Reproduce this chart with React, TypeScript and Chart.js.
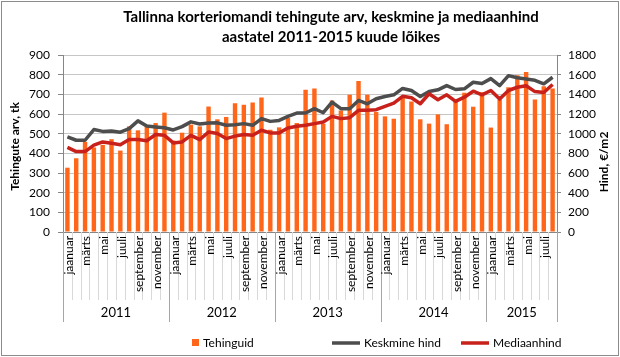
import React, { useEffect, useRef } from 'react';
import { Chart, registerables } from 'chart.js';

Chart.register(...registerables);

// ---- data ----
const MONTHS = ['jaanuar', 'veebruar', 'märts', 'aprill', 'mai', 'juuni', 'juuli', 'august', 'september', 'oktoober', 'november', 'detsember'];
const YEARS = ['2011', '2012', '2013', '2014', '2015'];
const MONTHS_IN_LAST_YEAR = 8;

const TITLE = ['Tallinna korteriomandi tehingute arv, keskmine ja mediaanhind', 'aastatel 2011-2015 kuude lõikes'];
const LEFT_TITLE = 'Tehingute arv, tk';
const RIGHT_TITLE = 'Hind, €/m2';
const SERIES_NAMES = ['Tehinguid', 'Keskmine hind', 'Mediaanhind'];

const LEFT_MAX = 900;
const LEFT_STEP = 100;
const RIGHT_MAX = 1800;
const RIGHT_STEP = 200;

const TEHINGUID = [
  327, 375, 458, 430, 443, 472, 414, 537, 517, 540, 554, 607,
  465, 505, 546, 537, 638, 573, 585, 655, 647, 659, 684, 520,
  532, 580, 554, 723, 730, 551, 669, 618, 698, 768, 698, 610,
  588, 576, 686, 664, 573, 551, 598, 548, 664, 708, 637, 711,
  531, 674, 736, 797, 814, 674, 741, 730,
];

const KESKMINE_HIND = [
  967, 933, 933, 1042, 1023, 1027, 1015, 1051, 1130, 1078, 1068, 1060,
  1038, 1072, 1120, 1098, 1108, 1110, 1085, 1090, 1102, 1085, 1153, 1125,
  1135, 1176, 1210, 1210, 1254, 1213, 1320, 1254, 1254, 1338, 1304, 1355,
  1378, 1395, 1460, 1439, 1378, 1429, 1446, 1489, 1449, 1456, 1523, 1510,
  1560, 1489, 1590, 1568, 1556, 1543, 1507, 1574,
];

const MEDIAANHIND = [
  860, 818, 818, 883, 916, 903, 888, 940, 940, 928, 991, 983,
  906, 916, 983, 940, 1017, 1001, 950, 975, 991, 983, 1035, 1008,
  1008, 1058, 1075, 1085, 1102, 1118, 1176, 1153, 1163, 1237, 1237, 1244,
  1277, 1310, 1380, 1365, 1304, 1406, 1345, 1395, 1328, 1371, 1432, 1395,
  1439, 1352, 1439, 1472, 1488, 1428, 1418, 1500,
];

// ---- categories built from names ----
const LABELS: string[] = [];
const YEAR_OF: number[] = [];
YEARS.forEach((_, yi) => {
  const count = yi === YEARS.length - 1 ? MONTHS_IN_LAST_YEAR : 12;
  for (let m = 0; m < count; m++) {
    LABELS.push(MONTHS[m]);
    YEAR_OF.push(yi);
  }
});

const COLORS = { bar: '#FF661A', avg: '#4D4D4D', med: '#C8201A', axis: '#868686', grid: '#C6C6C6' };
const FONT = 'Lato, "Open Sans", sans-serif';

const decorPlugin = {
  id: 'decor',
  afterDraw(chart: any) {
    const { ctx, chartArea, scales } = chart;
    const xs = scales.x;
    const n = LABELS.length;
    const step = xs.getPixelForValue(1) - xs.getPixelForValue(0);
    ctx.save();

    // frame
    ctx.strokeStyle = '#8C8C8C';
    ctx.lineWidth = 1;
    ctx.strokeRect(1.5, 1.5, chart.width - 3, chart.height - 3);

    // title
    ctx.fillStyle = '#000';
    ctx.font = `bold 15px ${FONT}`;
    ctx.textAlign = 'center';
    ctx.textBaseline = 'middle';
    ctx.fillText(TITLE[0], 331, 17);
    ctx.fillText(TITLE[1], 331, 37);

    // axis titles
    ctx.font = `bold 12px ${FONT}`;
    ctx.save();
    ctx.translate(15, (chartArea.top + chartArea.bottom) / 2 + 3);
    ctx.rotate(-Math.PI / 2);
    ctx.fillText(LEFT_TITLE, 0, 0);
    ctx.restore();
    ctx.save();
    ctx.translate(604, 162);
    ctx.rotate(-Math.PI / 2);
    ctx.fillText(RIGHT_TITLE, 0, 0);
    ctx.restore();

    // category separators
    for (let i = 0; i <= n; i++) {
      const bx = Math.round(xs.getPixelForValue(0) + (i - 0.5) * step) + 0.5;
      const isYear = i === n || (i < n && (i === 0 || YEAR_OF[i] !== YEAR_OF[i - 1]));
      ctx.strokeStyle = isYear ? '#A6A6A6' : '#D9D9D9';
      ctx.beginPath();
      ctx.moveTo(bx, chartArea.bottom);
      ctx.lineTo(bx, isYear ? 322 : 300);
      ctx.stroke();
    }

    // month labels (every other month)
    ctx.fillStyle = '#000';
    ctx.font = `12px ${FONT}`;
    for (let i = 0; i < n; i++) {
      const m = MONTHS.indexOf(LABELS[i]);
      if (m % 2 !== 0) continue;
      const cx = xs.getPixelForValue(i) + 1.5;
      ctx.save();
      ctx.translate(cx, chartArea.bottom + 4);
      ctx.rotate(-Math.PI / 2);
      ctx.textAlign = 'right';
      ctx.textBaseline = 'middle';
      ctx.fillText(LABELS[i], 0, 0);
      ctx.restore();
    }

    // year labels
    ctx.font = `13px ${FONT}`;
    ctx.textAlign = 'center';
    ctx.textBaseline = 'middle';
    YEARS.forEach((y, yi) => {
      const first = YEAR_OF.indexOf(yi);
      const last = YEAR_OF.lastIndexOf(yi);
      const cx = (xs.getPixelForValue(first) + xs.getPixelForValue(last)) / 2;
      ctx.fillText(y, cx, 313);
    });

    // legend
    const ds = chart.data.datasets;
    const ly = 343;
    ctx.font = `12px ${FONT}`;
    ctx.textAlign = 'left';
    const starts = [192, 332, 461];
    ds.forEach((d: any, k: number) => {
      const sx = starts[k];
      if (d.type === 'bar') {
        ctx.fillStyle = d.backgroundColor;
        ctx.fillRect(sx, ly - 4, 7, 7);
        ctx.fillStyle = '#000';
        ctx.fillText(d.label, sx + 11, ly);
      } else {
        ctx.strokeStyle = d.borderColor;
        ctx.lineWidth = 3.5;
        ctx.beginPath();
        ctx.moveTo(sx, ly);
        ctx.lineTo(sx + 28, ly);
        ctx.stroke();
        ctx.fillStyle = '#000';
        ctx.fillText(d.label, sx + 32, ly);
      }
    });
    ctx.restore();
  },
};

export default function App() {
  const ref = useRef<HTMLCanvasElement | null>(null);

  useEffect(() => {
    if (!ref.current) return;
    const chart = new Chart(ref.current, {
      type: 'bar',
      data: {
        labels: LABELS,
        datasets: [
          {
            type: 'bar',
            label: SERIES_NAMES[0],
            data: TEHINGUID,
            yAxisID: 'y',
            backgroundColor: COLORS.bar,
            barPercentage: 0.5,
            categoryPercentage: 1,
            order: 3,
          } as any,
          {
            type: 'line',
            label: SERIES_NAMES[1],
            data: KESKMINE_HIND,
            yAxisID: 'y1',
            borderColor: COLORS.avg,
            backgroundColor: COLORS.avg,
            borderWidth: 3.5,
            pointRadius: 0,
            tension: 0,
            borderJoinStyle: 'round',
            order: 2,
          } as any,
          {
            type: 'line',
            label: SERIES_NAMES[2],
            data: MEDIAANHIND,
            yAxisID: 'y1',
            borderColor: COLORS.med,
            backgroundColor: COLORS.med,
            borderWidth: 3.5,
            pointRadius: 0,
            tension: 0,
            borderJoinStyle: 'round',
            order: 1,
          } as any,
        ],
      },
      options: {
        animation: false,
        responsive: false,
        devicePixelRatio: 1,
        layout: { padding: { top: 55, bottom: 125, left: 0, right: 0 } },
        plugins: {
          legend: { display: false },
          tooltip: { enabled: false },
          title: { display: false },
        },
        scales: {
          x: {
            type: 'category',
            offset: true,
            grid: { display: false },
            border: { display: true, color: COLORS.axis },
            ticks: { display: false },
            afterFit: (s: any) => { s.height = 0; },
          },
          y: {
            position: 'left',
            min: 0,
            max: LEFT_MAX,
            ticks: { stepSize: LEFT_STEP, padding: 8, color: '#000', font: { family: FONT, size: 12 }, callback: (v: any) => String(v) },
            grid: { color: COLORS.grid, tickColor: COLORS.axis, tickLength: 5, drawTicks: true },
            border: { display: true, color: COLORS.axis },
            afterFit: (s: any) => { s.width = 63; },
          },
          y1: {
            position: 'right',
            min: 0,
            max: RIGHT_MAX,
            ticks: { stepSize: RIGHT_STEP, padding: 7, color: '#000', font: { family: FONT, size: 12 }, callback: (v: any) => String(v) },
            grid: { drawOnChartArea: false, color: COLORS.axis, tickLength: 4, drawTicks: true },
            border: { display: true, color: COLORS.axis },
            afterFit: (s: any) => { s.width = 63; },
          },
        },
      } as any,
      plugins: [decorPlugin],
    });
    return () => chart.destroy();
  }, []);

  return (
    <div style={{ position: 'absolute', left: 0, top: 0, width: 620, height: 357, background: '#fff' }}>
      <canvas ref={ref} width={620} height={357} style={{ display: 'block', width: 620, height: 357 }} />
    </div>
  );
}
